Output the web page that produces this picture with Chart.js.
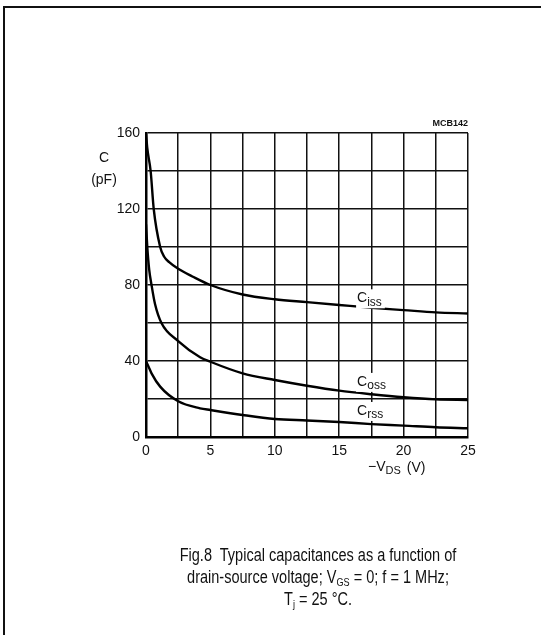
<!DOCTYPE html>
<html>
<head>
<meta charset="utf-8">
<script src="https://cdn.jsdelivr.net/npm/chart.js@4.4.1/dist/chart.umd.min.js"></script>
<style>
  html, body { margin:0; padding:0; background:#fff; }
  #wrap { position:relative; width:541px; height:635px; overflow:hidden; }
  #frame { position:absolute; left:3px; top:6px; right:-5px; bottom:-5px; border-left:2px solid #111; border-top:2px solid #111; }
  #chart { position:absolute; left:0; top:0; }
  #caption { position:absolute; left:118px; width:400px; top:544px; text-align:center;
    font-family:"Liberation Sans", Arial, sans-serif; font-size:17.5px; line-height:22px; color:#111;
    transform:scaleX(0.83); transform-origin:200px 0; }
  #caption sub { font-size:11px; vertical-align:-3px; line-height:0; }
</style>
</head>
<body>
<div id="wrap">
  <div id="frame"></div>
  <canvas id="chart" width="541" height="635"></canvas>
  <div id="caption">
    Fig.8&nbsp; Typical capacitances as a function of<br>
    drain-source voltage; V<sub>GS</sub> = 0; f = 1 MHz;<br>
    T<sub>j</sub> = 25 °C.
  </div>
</div>
<script>
// -V_DS (V) vs capacitance (pF)
const vdsIss = [0, 0.1, 0.36, 0.6, 1.1, 1.4, 1.8, 2.5, 3.6, 5, 7.5, 10, 12.5, 15, 17.5, 20, 22.5, 25];
const cIss   = [160, 152, 140, 120, 100, 95, 92, 88.5, 84.5, 80, 75, 72.5, 71, 69.5, 68, 66.8, 65.6, 65];

const vdsOss = [0, 0.1, 0.25, 0.43, 0.7, 1.2, 2.5, 4.2, 5, 7.5, 10, 12.5, 15, 17.5, 20, 22.5, 25];
const cOss   = [112, 100, 88, 80, 70, 60, 50.5, 42, 39.6, 33.5, 30, 27, 24.4, 22.5, 20.9, 19.8, 19.5];

const vdsRss = [0, 0.2, 0.43, 1.1, 2.5, 4.2, 5, 7.5, 10, 12.5, 15, 17.5, 20, 22.5, 25];
const cRss   = [40, 37, 33.5, 26.5, 18.8, 15.1, 14.2, 11.6, 9.5, 8.7, 7.9, 6.8, 6, 5.1, 4.6];

// curve labels: [main, subscript, x, y] in data units
const curveLabels = [
  ['C', 'iss', 16.7, 73],
  ['C', 'oss', 16.7, 29],
  ['C', 'rss', 16.7, 13.7]
];

const FONT = '"Liberation Sans", Arial, sans-serif';
const toPts = (xs, ys) => xs.map((x, i) => ({ x: x, y: ys[i] }));

function ds(xs, ys) {
  return { data: toPts(xs, ys), borderColor:'#000', borderWidth:2.4, pointRadius:0,
           cubicInterpolationMode:'monotone', fill:false };
}

// draws the subscript texts (curve labels, axis titles, drawing number)
const textPlugin = {
  id: 'texts',
  afterDraw(chart) {
    const ctx = chart.ctx, xs = chart.scales.x, ys = chart.scales.y;
    ctx.save();
    ctx.fillStyle = '#111';
    ctx.textBaseline = 'middle';
    curveLabels.forEach(l => {
      const px = xs.getPixelForValue(l[2]), py = ys.getPixelForValue(l[3]);
      ctx.font = '14px ' + FONT;
      const w1 = ctx.measureText(l[0]).width;
      ctx.font = '12px ' + FONT;
      const w2 = ctx.measureText(l[1]).width;
      ctx.fillStyle = '#fff';
      ctx.fillRect(px - 5, py - 9, w1 + w2 + 4, 19);
      ctx.fillStyle = '#111';
      ctx.textAlign = 'left';
      ctx.font = '14px ' + FONT;
      ctx.fillText(l[0], px - 4, py);
      ctx.font = '12px ' + FONT;
      ctx.fillText(l[1], px - 4 + w1, py + 4);
    });
    // y title
    ctx.textAlign = 'center';
    ctx.font = '14px ' + FONT;
    ctx.fillText('C', 104, 158);
    ctx.fillText('(pF)', 104, 180);
    // x title
    ctx.textAlign = 'left';
    ctx.font = '14px ' + FONT;
    let x0 = 368;
    ctx.fillText('\u2212V', x0, 467);
    x0 += ctx.measureText('\u2212V').width;
    ctx.font = '11px ' + FONT;
    ctx.fillText('DS', x0, 471);
    x0 += ctx.measureText('DS').width + 6;
    ctx.font = '14px ' + FONT;
    ctx.fillText('(V)', x0, 468);
    // drawing number
    ctx.textAlign = 'right';
    ctx.font = 'bold 9px ' + FONT;
    ctx.fillText('MCB142', 468, 124);
    ctx.restore();
  }
};

new Chart(document.getElementById('chart'), {
  type: 'line',
  data: { datasets: [ds(vdsIss, cIss), ds(vdsOss, cOss), ds(vdsRss, cRss)] },
  options: {
    responsive:false, animation:false,
    layout: { padding: { left:0, top:133, right:73, bottom:168 } },
    plugins: { legend:{ display:false }, tooltip:{ enabled:false } },
    scales: {
      x: {
        type:'linear', min:0, max:25,
        afterFit: s => { s.height = 30; },
        grid: { color:'#111', lineWidth:1.5, drawTicks:false },
        border: { color:'#000', width:2.5 },
        ticks: { stepSize:2.5, padding:6, color:'#111', font:{ family:FONT, size:14 },
                 maxRotation:0, autoSkip:false,
                 callback: v => (v % 5 === 0 ? v : '') }
      },
      y: {
        min:0, max:160,
        afterFit: s => { s.width = 146; },
        grid: { color:'#111', lineWidth:1.5, drawTicks:false },
        border: { color:'#000', width:2.5 },
        ticks: { stepSize:20, padding:6, color:'#111', font:{ family:FONT, size:14 },
                 autoSkip:false,
                 callback: v => (v % 40 === 0 ? v : '') }
      }
    }
  },
  plugins: [textPlugin]
});
</script>
</body>
</html>
